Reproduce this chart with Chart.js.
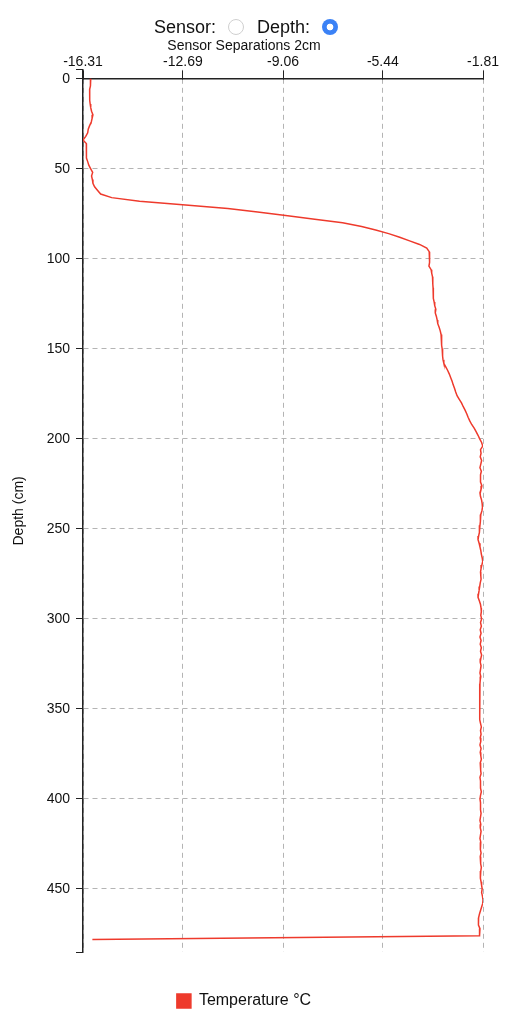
<!DOCTYPE html>
<html>
<head>
<meta charset="utf-8">
<script src="https://cdn.jsdelivr.net/npm/chart.js@4.4.1/dist/chart.umd.min.js"></script>
<style>
  body { margin: 0; background: #fff; font-family: "Liberation Sans", Arial, Helvetica, sans-serif; }
  #wrap { position: relative; width: 526px; height: 1024px; overflow: hidden; }
  #chart { position: absolute; left: 0; top: 0; }
  .lbl { position: absolute; top: 17px; font-size: 18px; line-height: 20px; color: #111; white-space: nowrap; }
  input[type=radio] { -webkit-appearance: none; appearance: none; position: absolute; top: 19px; width: 16px; height: 16px; margin: 0; border-radius: 50%; box-sizing: border-box; }
  #rs { left: 228px; border: 1px solid #cfcfcf; background: #fff; }
  #rd { left: 322px; border: none; background: radial-gradient(circle, #fff 0, #fff 3px, #3b82f6 3.7px); }
</style>
</head>
<body>
<div id="wrap">
  <canvas id="chart" width="526" height="1024"></canvas>
  <span class="lbl" style="left:154px">Sensor:</span>
  <input type="radio" id="rs" name="mode">
  <span class="lbl" style="left:257px">Depth:</span>
  <input type="radio" id="rd" name="mode" checked>
</div>
<script>
// ---- data ----
const seriesLabel = 'Temperature °C';
const chartTitle = 'Sensor Separations 2cm';
const yAxisTitle = 'Depth (cm)';

const depthCm = [
  0, 2, 4, 6, 8, 10, 12, 14, 16, 18, 20, 22, 24, 26, 28, 30, 32, 34, 36, 38,
  40, 42, 44, 46, 48, 50, 52, 54, 56, 58, 60, 62, 64, 66, 68, 70, 72, 74, 76, 78,
  80, 82, 84, 86, 88, 90, 92, 94, 96, 98, 100, 102, 104, 106, 108, 110, 112, 114, 116, 118,
  120, 122, 124, 126, 128, 130, 132, 134, 136, 138, 140, 142, 144, 146, 148, 150, 152, 154, 156, 158,
  160, 162, 164, 166, 168, 170, 172, 174, 176, 178, 180, 182, 184, 186, 188, 190, 192, 194, 196, 198,
  200, 202, 204, 206, 208, 210, 212, 214, 216, 218, 220, 222, 224, 226, 228, 230, 232, 234, 236, 238,
  240, 242, 244, 246, 248, 250, 252, 254, 256, 258, 260, 262, 264, 266, 268, 270, 272, 274, 276, 278,
  280, 282, 284, 286, 288, 290, 292, 294, 296, 298, 300, 302, 304, 306, 308, 310, 312, 314, 316, 318,
  320, 322, 324, 326, 328, 330, 332, 334, 336, 338, 340, 342, 344, 346, 348, 350, 352, 354, 356, 358,
  360, 362, 364, 366, 368, 370, 372, 374, 376, 378, 380, 382, 384, 386, 388, 390, 392, 394, 396, 398,
  400, 402, 404, 406, 408, 410, 412, 414, 416, 418, 420, 422, 424, 426, 428, 430, 432, 434, 436, 438,
  440, 442, 444, 446, 448, 450, 452, 454, 456, 458, 460, 462, 464, 466, 468, 470, 472, 474, 476, 478
];

const temperatureC = [
  -16.03, -16.03, -16.05, -16.07, -16.07, -16.07, -16.06, -16.05, -16.03, -16.00,
  -15.95, -15.98, -16.01, -16.07, -16.12, -16.14, -16.21, -16.31, -16.19, -16.19,
  -16.19, -16.19, -16.17, -16.14, -16.10, -16.03, -15.96, -16.00, -15.97, -15.95,
  -15.89, -15.78, -15.67,
  -15.27, -14.26, -12.70, -11.06, -9.98, -8.89, -7.91, -6.90, -6.21, -5.70,
  -5.23, -4.83, -4.47, -4.11, -3.85, -3.76, -3.74,
  -3.74, -3.76, -3.77, -3.69, -3.67, -3.64, -3.63, -3.63, -3.62, -3.62,
  -3.61, -3.60, -3.58, -3.56, -3.52, -3.54, -3.50, -3.47, -3.45, -3.40,
  -3.36, -3.33, -3.32, -3.31, -3.30, -3.29, -3.28, -3.27, -3.26, -3.23,
  -3.16, -3.09, -3.03, -2.98, -2.93, -2.89, -2.84, -2.80, -2.75, -2.67,
  -2.59, -2.53, -2.46, -2.40, -2.35, -2.29, -2.22, -2.13, -2.06, -1.99,
  -1.93, -1.86, -1.82,
  -1.90, -1.88, -1.91, -1.86, -1.89, -1.92, -1.87, -1.90, -1.91, -1.89,
  -1.85, -1.88, -1.92, -1.90, -1.86, -1.84, -1.83, -1.85, -1.89, -1.90,
  -1.91, -1.92, -1.93, -1.95, -1.97, -1.99, -1.95, -1.92, -1.89, -1.87,
  -1.84, -1.82, -1.85, -1.88, -1.90, -1.89, -1.88, -1.91, -1.93, -1.95,
  -1.97, -1.99, -1.94, -1.90, -1.88, -1.87, -1.89, -1.86, -1.90, -1.87,
  -1.91, -1.88, -1.92, -1.88, -1.91, -1.87, -1.90, -1.86, -1.89, -1.91,
  -1.88, -1.90, -1.92, -1.89, -1.91, -1.92, -1.93, -1.93, -1.93, -1.93,
  -1.93, -1.93, -1.93, -1.93, -1.93, -1.92, -1.90, -1.87, -1.90, -1.88,
  -1.91, -1.89, -1.92, -1.88, -1.91, -1.89, -1.87, -1.91, -1.89, -1.90,
  -1.88, -1.92, -1.90, -1.91, -1.89, -1.87, -1.90, -1.92, -1.90, -1.89,
  -1.91, -1.88, -1.90, -1.92, -1.89, -1.91, -1.88, -1.90, -1.92, -1.89,
  -1.91, -1.90, -1.88, -1.91, -1.90, -1.89, -1.87, -1.89, -1.91, -1.90,
  -1.88, -1.86, -1.84, -1.86, -1.83, -1.81, -1.82, -1.86, -1.90, -1.94,
  -1.97, -1.99, -1.96, -1.92, -1.94, -1.93,
  -15.97
];

const xTickValues = [-16.31, -12.69, -9.06, -5.44, -1.81];
const xTickLabels = ['-16.31', '-12.69', '-9.06', '-5.44', '-1.81'];
const yTickValues = [0, 50, 100, 150, 200, 250, 300, 350, 400, 450];
const yDomain = [-5, 485];

// ---- styles ----
const FONT = '"Liberation Sans", Arial, Helvetica, sans-serif';
const RED = 'rgb(238,58,44)';
const GRID = 'rgb(180,180,180)';
const AXIS = '#222';
const TEXT = '#111';

const points = depthCm.map((d, i) => ({ x: temperatureC[i], y: d }));

new Chart(document.getElementById('chart'), {
  type: 'scatter',
  data: {
    datasets: [{
      label: seriesLabel,
      data: points,
      showLine: true,
      borderColor: RED,
      backgroundColor: RED,
      borderWidth: 1.5,
      pointRadius: 0,
      pointHoverRadius: 0,
      tension: 0,
      fill: false
    }]
  },
  options: {
    responsive: false,
    animation: false,
    events: [],
    layout: { padding: { left: 5, right: 43, top: 0, bottom: 5 } },
    plugins: {
      title: {
        display: true,
        text: chartTitle,
        color: TEXT,
        font: { family: FONT, size: 14, weight: 'normal' },
        padding: { top: 38, bottom: 15 }
      },
      legend: {
        display: true,
        position: 'bottom',
        labels: {
          boxWidth: 14, boxHeight: 14, padding: 41, color: TEXT,
          font: { family: FONT, size: 16 }
        }
      },
      tooltip: { enabled: false }
    },
    scales: {
      x: {
        type: 'linear',
        position: { y: 0 },
        min: xTickValues[0],
        max: xTickValues[xTickValues.length - 1],
        afterBuildTicks: s => { s.ticks = xTickValues.map(v => ({ value: v })); },
        afterFit: s => { s.paddingLeft = 0; s.paddingRight = 0; },
        ticks: {
          autoSkip: false, maxRotation: 0, minRotation: 0, padding: -16,
          color: TEXT, font: { family: FONT, size: 14 },
          callback: (v, i) => xTickLabels[i]
        },
        grid: { color: GRID, lineWidth: 1, tickLength: -9, tickColor: AXIS, tickWidth: 1 },
        border: { display: true, color: AXIS, width: 1.5, dash: [5, 4] }
      },
      y: {
        type: 'linear',
        reverse: true,
        min: yDomain[0],
        max: yDomain[1],
        afterBuildTicks: s => { s.ticks = [yDomain[0], ...yTickValues, yDomain[1]].map(v => ({ value: v })); },
        afterFit: s => { s.width = 78; s.paddingTop = 0; s.paddingBottom = 0; },
        ticks: {
          autoSkip: false, padding: 6, color: TEXT, font: { family: FONT, size: 14 },
          callback: v => yTickValues.includes(v) ? String(v) : ''
        },
        grid: {
          color: c => (c.tick && yTickValues.includes(c.tick.value)) ? GRID : 'rgba(0,0,0,0)',
          lineWidth: 1, tickLength: 7, tickColor: AXIS, tickWidth: 1
        },
        border: { display: true, color: AXIS, width: 1.5, dash: [5, 4] },
        title: {
          display: true, text: yAxisTitle, color: TEXT,
          font: { family: FONT, size: 14 },
          padding: { top: 6, bottom: 0 }
        }
      }
    }
  }
});
</script>
</body>
</html>
